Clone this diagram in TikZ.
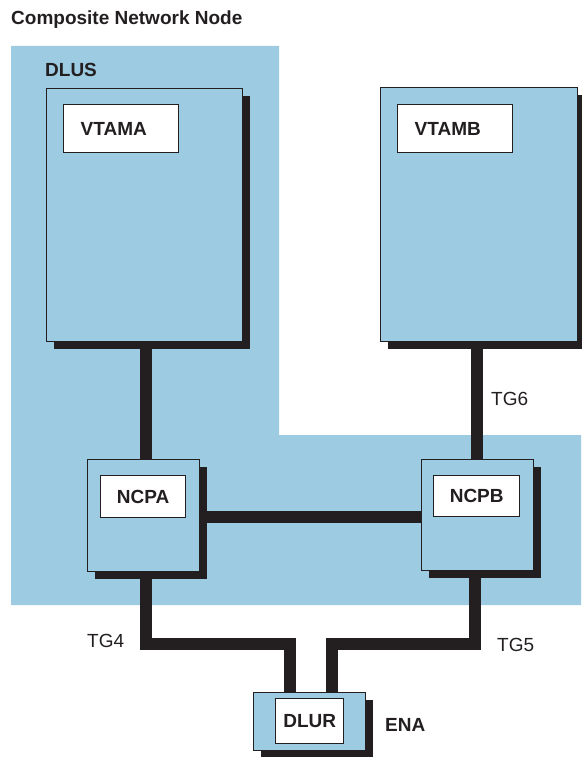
\documentclass[tikz,border=0pt]{standalone}
\usepackage{fontspec}
\setmainfont{Liberation Sans}
\usetikzlibrary{shadows}
\definecolor{netblue}{RGB}{157,203,226}
\definecolor{ink}{RGB}{35,31,32}
\begin{document}
\begin{tikzpicture}[x=1pt,y=-1pt,
  every node/.style={font=\fontsize{19}{22}\selectfont, text=ink, inner sep=0pt},
  boldtxt/.style={font=\fontsize{19}{22}\selectfont\bfseries},
  unit/.style={draw=ink, line width=1.2pt, fill=netblue, anchor=north west, inner sep=0pt,
    drop shadow={fill=ink, opacity=1, shadow xshift=7pt, shadow yshift=-7pt}},
  lbl/.style={draw=ink, line width=1.4pt, fill=white, anchor=north west, inner sep=0pt,
    font=\fontsize{19}{22}\selectfont\bfseries},
  link/.style={draw=ink, line width=12pt}]
\useasboundingbox (0,0) rectangle (581,757);
% composite network node region
\fill[netblue] (11,46) -- (279,46) -- (279,435) -- (581,435) -- (581,605) -- (11,605) -- cycle;
% title and region labels
\node[boldtxt, anchor=base west] (title) at (11,24.5) {Composite Network Node};
\node[boldtxt, anchor=base west] (dlus) at (45,77) {DLUS};
% main boxes
\node[unit, minimum width=196pt, minimum height=253pt] (vtama) at (46,88) {};
\node[unit, minimum width=197pt, minimum height=254pt] (vtamb) at (380,87) {};
\node[unit, minimum width=112pt, minimum height=112pt] (ncpa) at (87,459) {};
\node[unit, minimum width=112pt, minimum height=111pt] (ncpb) at (421,459) {};
\node[unit, minimum width=112pt, minimum height=58pt] (dlur) at (253,692) {};
% inner labels
\node[lbl, minimum width=115pt, minimum height=48pt, text width=81pt, align=left, inner xsep=17pt] (vtamalbl) at (63,104) {VTAMA};
\node[lbl, minimum width=115pt, minimum height=48pt, text width=81pt, align=left, inner xsep=16pt] (vtamblbl) at (397,104) {VTAMB};
\node[lbl, minimum width=85pt, minimum height=42pt] (ncpalbl) at (100,475) {NCPA};
\node[lbl, minimum width=86pt, minimum height=41pt] (ncpblbl) at (433,475) {NCPB};
\node[lbl, minimum width=68pt, minimum height=45pt] (durlbl) at (275,698) {DLUR};
% connectors
\coordinate (tgy) at (0,644);
\coordinate (hy) at (0,517);
\coordinate (pa) at ([xshift=2pt]ncpa.north);
\coordinate (pb) at ([xshift=-1pt]ncpb.north);
\coordinate (qa) at ([xshift=2pt]ncpa.south);
\coordinate (qb) at ([xshift=-3pt]ncpb.south);
\coordinate (da) at ([xshift=-20pt]dlur.north);
\coordinate (db) at ([xshift=22pt]dlur.north);
\draw[link] (vtama.south -| pa) -- (pa);
\draw[link] (vtamb.south -| pb) -- (pb);
\draw[link] (ncpa.east |- hy) -- (ncpb.west |- hy);
\draw[link] (qa) |- (da |- tgy) -- (da);
\draw[link] (qb) |- (db |- tgy) -- (db);
% connector labels
\node[anchor=base west] (tg6) at (491,405) {TG6};
\node[anchor=base west] (tg4) at (87,647) {TG4};
\node[anchor=base west] (tg5) at (497,651) {TG5};
\node[boldtxt, anchor=base west] (ena) at (385,731) {ENA};
\end{tikzpicture}
\end{document}
